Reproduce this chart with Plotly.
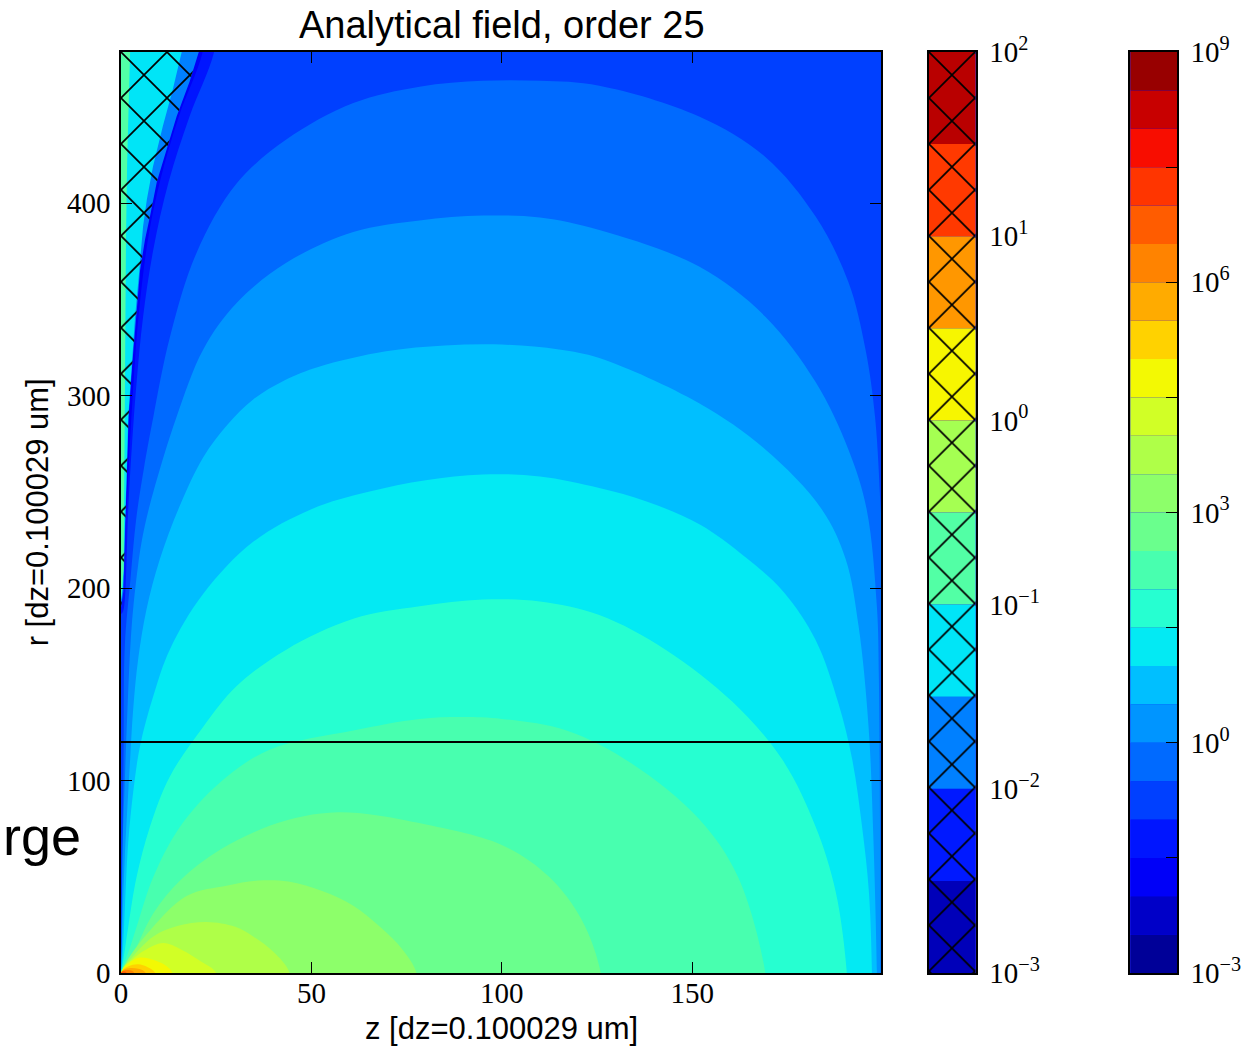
import numpy as np
import plotly.graph_objects as go

# ---------------- data ----------------
# Boundary of each filled contour level of log10(field): points (z, r).
# The region on the origin side of a boundary has log10(field) >= that level.
EDGE_M1_5 = dict(z=[-1, -1, 0.5, 1.3, 2.2, 3.4, 4.6, 7.0, 10.2, 15.2, 21.5, 22.5, 230, 230],
                 r=[-20, 198, 215, 235, 270, 310, 341, 380, 411, 445, 479, 500, 500, -20])
EDGE_M1_0 = dict(z=[-1, -1, 0.3, 0.8, 1.9, 2.8, 4.1, 5.8, 8.5, 12.5, 18, 24.5, 25.5, 230, 230],
                 r=[-20, 185, 187, 190, 241, 272, 307, 341, 376, 411, 445, 479, 500, 500, -20])
EDGE_M0_5 = dict(z=[-1, 0.05, 0.15, 0.4, 0.7, 1.0, 2.5, 4, 6, 8.5, 12.8, 19.8, 30.3, 43.4, 61, 78.4, 95, 110,
                    125.6, 151.8, 169.2, 182.4, 191, 195.5, 198, 199.5, 200.5, 201],
                 r=[-20, 3, 10, 60, 120, 170, 205, 236, 262, 289, 330, 374, 410, 433, 452, 460.5, 463.5, 463.5,
                    461, 445, 424, 393, 359, 324, 289, 241, 200, -20])
EDGE_P0_0 = dict(z=[-1, 0.03, 0.2, 0.5, 1.0, 1.7, 2.8, 4.5, 6, 8.5, 14.6, 21.6, 30.3, 43.4, 61, 78.4, 95, 110,
                    125.6, 151.8, 169.2, 182.4, 191, 195.8, 198.5, 199, 199.3, 199.45, 199.5],
                 r=[-20, 2, 30, 70, 100, 137, 180, 212, 230, 250, 289, 324, 348, 369, 385, 391, 393.5, 392.5,
                    386, 367, 341, 307, 272, 241, 190, 154, 80, 0, -20])
EDGE_P0_5 = dict(z=[-1, 0.02, 0.3, 0.6, 1, 2.4, 3.2, 4.5, 6.7, 10.2, 15.5, 21.6, 28, 34.7, 43, 52, 69.6, 85, 100,
                    115, 125.6, 151.8, 169.2, 184, 190.3, 193.7, 196.3, 197.6, 198.5, 198.6],
                 r=[-20, 1, 20, 40, 60, 111, 137, 163, 189, 215, 243, 268, 285, 298, 308, 315, 323, 326, 326.5,
                    324, 319.5, 296, 272, 241, 215, 180, 128, 68, 0, -20])
EDGE_P1_0 = dict(z=[-1, 0.02, 0.3, 1, 1.9, 3.2, 5, 8.5, 12.8, 21.6, 34.7, 50, 65, 80, 95, 110,
                    125.6, 138, 152, 164, 174, 182.4, 188.4, 192, 194.6, 196.4, 197.2, 197.3],
                 r=[-20, 0.5, 5, 33, 68, 94, 118, 144, 168, 197, 224, 241, 250, 256, 259, 258,
                    252, 245, 233, 216, 198, 173, 140, 111, 76, 42, 0, -20])
EDGE_P1_5 = dict(z=[-1, 0.02, 0.3, 1.0, 1.9, 4.1, 7.6, 12.8, 21.6, 30.3, 43.4, 61, 78.4, 95, 110,
                    125.6, 143, 160.5, 173.6, 182.4, 187.7, 190.6, 190.8],
                 r=[-20, 0.3, 3, 12, 24, 50, 76, 102, 128, 149, 168, 184, 190.5, 194, 193,
                    186, 168, 141, 111, 76, 42, 0, -20])
EDGE_P2_0 = dict(z=[-1, 0.02, 0.3, 1, 2.5, 4.1, 8.5, 15.5, 26, 39, 61, 78.4, 90, 100, 117, 134, 151.8, 162, 169.2, 169.5],
                 r=[-20, 0.2, 2, 6, 14, 24, 50, 76, 99, 116, 126, 132, 133, 132, 126, 109, 80, 50, 0, -20])
EDGE_P2_5 = dict(z=[-1, 0.5, 1.5, 3.2, 8.5, 15.5, 26, 39, 48, 57, 67, 78, 100, 112.4, 121, 126, 126.5],
                 r=[-20, 1.5, 4.5, 10, 31, 48, 64, 76.5, 81.5, 83.5, 82, 78, 66.5, 50, 27.6, 0, -20])
EDGE_P3_0 = dict(z=[-1, 0.5, 1.5, 6.7, 17.2, 28, 36, 44, 53, 61, 68, 74, 77.6, 78],
                 r=[-20, 1.7, 6, 20, 40, 45.5, 48, 47.5, 42.5, 35, 24, 12, 0, -20])
EDGE_P3_5 = dict(z=[-1, 0.5, 2.4, 8.5, 15, 22.5, 30, 34.7, 40, 44.3, 44.8],
                 r=[-20, 2, 7, 19, 24.5, 26.5, 24, 19, 11, 0, -20])
EDGE_P4_0 = dict(z=[-1, 0.4, 3, 6, 11.1, 16, 21, 25, 25.5],
                 r=[-20, 2, 7, 11.5, 15.6, 12, 6, 0, -20])
EDGE_P4_5 = dict(z=[-1, 0.3, 2, 5, 9, 12, 13.5, 14], r=[-20, 1.5, 5, 8, 6.5, 3.5, 0, -20])
EDGE_P5_0 = dict(z=[-1, 0.3, 2, 4.5, 7, 9, 9.3], r=[-20, 1, 3.5, 4.5, 3, 0, -20])
EDGE_P5_5 = dict(z=[-1, 0.2, 2, 4.5, 6.5, 6.8], r=[-20, 0.8, 2.5, 2.2, 0, -20])
EDGE_P6_0 = dict(z=[-1, 0.2, 2, 3.5, 3.8], r=[-20, 0.5, 1.5, 0, -20])
EDGE_P6_5 = dict(z=[-1, 0.1, 1, 1.5, 1.7], r=[-20, 0.3, 0.8, 0, -20])

FIELD_LEVELS = [-1.5, -1.0, -0.5, 0.0, 0.5, 1.0, 1.5, 2.0, 2.5, 3.0, 3.5, 4.0, 4.5, 5.0, 5.5, 6.0, 6.5]
FIELD_EDGES = [EDGE_M1_5, EDGE_M1_0, EDGE_M0_5, EDGE_P0_0, EDGE_P0_5, EDGE_P1_0, EDGE_P1_5, EDGE_P2_0,
               EDGE_P2_5, EDGE_P3_0, EDGE_P3_5, EDGE_P4_0, EDGE_P4_5, EDGE_P5_0, EDGE_P5_5, EDGE_P6_0,
               EDGE_P6_5]
FIELD_FLOOR_LEVEL = -2.0   # level of the area outside every boundary

# colour-bar level ranges (log10)
FIELD_LEVEL_MIN, FIELD_LEVEL_MAX, LEVEL_STEP = -3.0, 9.0, 0.5
HATCH_LEVEL_MIN, HATCH_LEVEL_MAX = -3.0, 2.0

# hatched overlay regions (z, r) and the lower level of their band in the hatched colour bar
HATCH_RIM_Z = [0, 0, 20.5, 18, 14.6, 12, 9.4, 7.6, 6.3, 5.0, 3.9, 2.9, 2.0, 1.5, 1.0, 0.6, 0]
HATCH_RIM_R = [190, 479, 479, 463, 445, 428, 411, 393, 381, 365, 341, 315, 289, 255, 220, 198, 190]
HATCH_CORE_Z = [0, 0, 16, 13.6, 11, 8.4, 6.8, 5.8, 4.8, 3.7, 2.8, 1.9, 1.4, 0.9, 0.5, 0]
HATCH_CORE_R = [194, 479, 479, 459, 440, 419, 402, 388, 365, 341, 315, 289, 255, 220, 200, 194]
HATCH_STRIP_Z = [0, 0, 2.4, 2.1, 1.6, 1.3, 1.1, 0.9, 0.7, 0]
HATCH_STRIP_R = [194, 479, 479, 455, 420, 380, 320, 260, 210, 194]
HATCH_RIM_LEVEL, HATCH_CORE_LEVEL, HATCH_STRIP_LEVEL = -2.0, -1.5, -1.0

R_MARK = 120

Z_TICKS = [0, 50, 100, 150]
R_TICKS = [0, 100, 200, 300, 400]
FIELD_TICKS = [-3, 0, 3, 6, 9]
FIELD_TICK_TEXT = ['10<sup>\u22123</sup>', '10<sup>0</sup>', '10<sup>3</sup>', '10<sup>6</sup>', '10<sup>9</sup>']
FIELD_MINOR_STEP = 1.5
HATCH_TICKS = [-3, -2, -1, 0, 1, 2]
HATCH_TICK_TEXT = ['10<sup>\u22123</sup>', '10<sup>\u22122</sup>', '10<sup>\u22121</sup>',
                   '10<sup>0</sup>', '10<sup>1</sup>', '10<sup>2</sup>']

TITLE = 'Analytical field, order 25'
X_TITLE = 'z [dz=0.100029 um]'
Y_TITLE = 'r [dz=0.100029 um]'
SIDE_TEXT = 'rge'

# ---------------- styling helpers ----------------


def jet(v):
    r = np.interp(v, [0, 0.35, 0.66, 0.89, 1], [0, 0, 1, 1, 0.5])
    g = np.interp(v, [0, 0.125, 0.375, 0.64, 0.91, 1], [0, 0, 1, 1, 0, 0])
    b = np.interp(v, [0, 0.11, 0.34, 0.65, 1], [0.5, 1, 1, 0, 0])
    return 'rgb(%d,%d,%d)' % (round(r * 255), round(g * 255), round(b * 255))


field_edges = np.arange(FIELD_LEVEL_MIN, FIELD_LEVEL_MAX + 1e-9, LEVEL_STEP)
hatch_edges = np.arange(HATCH_LEVEL_MIN, HATCH_LEVEL_MAX + 1e-9, LEVEL_STEP)
n_field = len(field_edges) - 1
n_hatch = len(hatch_edges) - 1
field_colors = [jet((i + 0.5) / n_field) for i in range(n_field)]
hatch_colors = [jet((i + 0.5) / n_hatch) for i in range(n_hatch)]


def field_color(level):
    return field_colors[int(round((level - FIELD_LEVEL_MIN) / LEVEL_STEP))]


def hatch_color(level):
    return hatch_colors[int(round((level - HATCH_LEVEL_MIN) / LEVEL_STEP))]


SERIF = 'Liberation Serif'
SANS = 'Liberation Sans'
W, H = 1253, 1046
ML, MR, MT, MB = 121, 71, 52, 73
PW = W - ML - MR
PH = H - MT - MB


def dom(px0, px1):
    return [(px0 - ML) / PW, (px1 - ML) / PW]


PATTERN = dict(shape='x', fgcolor='black', fgopacity=1, size=32.5, solidity=0.1)

fig = go.Figure()

# filled contour bands, lowest level first
for level, edge in zip(FIELD_LEVELS, FIELD_EDGES):
    fig.add_trace(go.Scatter(x=edge['z'], y=edge['r'], mode='lines', fill='toself',
                             fillcolor=field_color(level),
                             line=dict(width=0, shape='spline', smoothing=1.0),
                             showlegend=False, hoverinfo='skip'))

# hatched overlay
for zz, rr, level in [(HATCH_RIM_Z, HATCH_RIM_R, HATCH_RIM_LEVEL),
                      (HATCH_CORE_Z, HATCH_CORE_R, HATCH_CORE_LEVEL),
                      (HATCH_STRIP_Z, HATCH_STRIP_R, HATCH_STRIP_LEVEL)]:
    fig.add_trace(go.Scatter(x=zz, y=rr, mode='lines', fill='toself',
                             fillcolor=hatch_color(level), line=dict(width=0),
                             showlegend=False, hoverinfo='skip'))

fig.add_trace(go.Scatter(x=HATCH_RIM_Z, y=HATCH_RIM_R, mode='lines', fill='toself',
                         fillcolor='rgba(0,0,0,0)', line=dict(width=0),
                         fillpattern=dict(PATTERN, bgcolor='rgba(0,0,0,0)'),
                         showlegend=False, hoverinfo='skip'))

# hatched colour bar: one bar per band so the hatch stays black
for i in range(n_hatch):
    fig.add_trace(go.Bar(x=[0.5], y=[LEVEL_STEP], base=[hatch_edges[i]], width=1,
                         xaxis='x2', yaxis='y2', showlegend=False, hoverinfo='skip',
                         marker=dict(color=hatch_colors[i], line=dict(width=0),
                                     pattern=dict(PATTERN, bgcolor=hatch_colors[i]))))
# field colour bar
fig.add_trace(go.Bar(x=[0.5] * n_field, y=[LEVEL_STEP] * n_field, base=list(field_edges[:-1]),
                     width=1, xaxis='x3', yaxis='y3', showlegend=False, hoverinfo='skip',
                     marker=dict(color=field_colors, line=dict(width=0))))

tickfont = dict(family=SERIF, size=29, color='black')
frame = dict(showline=True, linecolor='black', linewidth=1.5, mirror=True, showgrid=False, zeroline=False)

fig.update_layout(
    width=W, height=H, margin=dict(l=ML, r=MR, t=MT, b=MB),
    paper_bgcolor='white', plot_bgcolor=field_color(FIELD_FLOOR_LEVEL), showlegend=False,
    barmode='overlay',
    xaxis=dict(domain=dom(121, 884), range=[0, 199.6], tickvals=Z_TICKS, ticks='inside',
               ticklen=11, tickwidth=1, tickcolor='black', tickfont=tickfont,
               ticklabelstandoff=-7, **dict(frame, mirror='ticks')),
    yaxis=dict(domain=[0, 1], range=[0, 478.5], tickvals=R_TICKS, ticks='inside',
               ticklen=11, tickwidth=1, tickcolor='black', tickfont=tickfont,
               ticklabelstandoff=3, **dict(frame, mirror='ticks')),
    xaxis2=dict(domain=dom(932, 979), range=[0, 1], showticklabels=False, ticks='',
                anchor='y2', fixedrange=True, **frame),
    yaxis2=dict(domain=[0, 1], range=[HATCH_LEVEL_MIN, HATCH_LEVEL_MAX], anchor='x2', side='right',
                tickvals=HATCH_TICKS, ticktext=HATCH_TICK_TEXT, ticks='', tickfont=tickfont,
                ticklabelstandoff=6, **frame),
    xaxis3=dict(domain=dom(1134, 1181), range=[0, 1], showticklabels=False, ticks='',
                anchor='y3', fixedrange=True, **frame),
    yaxis3=dict(domain=[0, 1], range=[FIELD_LEVEL_MIN, FIELD_LEVEL_MAX], anchor='x3', side='right',
                tickvals=FIELD_TICKS, ticktext=FIELD_TICK_TEXT, ticks='inside', ticklen=11,
                tickcolor='black', tickfont=tickfont, ticklabelstandoff=6,
                minor=dict(ticks='inside', ticklen=11, tickcolor='black',
                           tick0=FIELD_LEVEL_MIN, dtick=FIELD_MINOR_STEP, showgrid=False),
                **frame),
    shapes=[dict(type='line', xref='x domain', yref='y', x0=0, x1=1, y0=R_MARK, y1=R_MARK,
                 line=dict(color='black', width=2))],
    annotations=[
        dict(text=TITLE, xref='paper', yref='paper', x=(503 - ML) / PW, y=1, yshift=27,
             xanchor='center', yanchor='middle', showarrow=False,
             font=dict(family=SANS, size=38, color='black')),
        dict(text=X_TITLE, xref='paper', yref='paper', x=(503 - ML) / PW, y=0, yshift=-55,
             xanchor='center', yanchor='middle', showarrow=False,
             font=dict(family=SANS, size=31, color='black')),
        dict(text=Y_TITLE, xref='paper', yref='paper', x=(37 - ML) / PW, y=(973 - 512) / PH,
             xanchor='center', yanchor='middle', textangle=-90, showarrow=False,
             font=dict(family=SANS, size=31, color='black')),
        dict(text=SIDE_TEXT, xref='paper', yref='paper', x=(83 - ML) / PW, y=(973 - 836) / PH,
             xanchor='right', yanchor='middle', showarrow=False,
             font=dict(family=SANS, size=54, color='black')),
    ],
)

fig.write_html('out.html')
